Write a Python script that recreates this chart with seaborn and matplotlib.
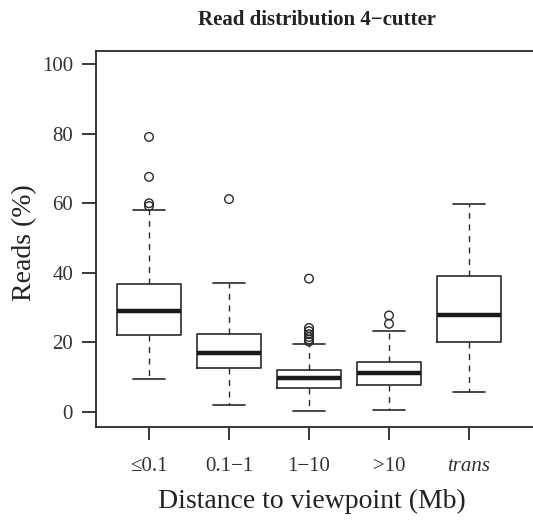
import numpy as np
import pandas as pd
import matplotlib
matplotlib.use("Agg")
import matplotlib.pyplot as plt
import seaborn as sns

# Distance classes from the viewpoint
categories = ["≤0.1", "0.1−1", "1−10", ">10", "trans"]

# Five-number summaries (% of reads) per distance class
whisker_low = [9.5, 2.0, 0.1, 0.4, 5.8]
quartile_1 = [22.0, 12.5, 6.8, 7.8, 20.2]
medians = [29.1, 16.9, 9.7, 11.0, 27.7]
quartile_3 = [36.8, 22.4, 12.1, 14.3, 39.1]
whisker_high = [58.0, 37.1, 19.5, 23.1, 59.7]

# Outlying viewpoints per distance class
outliers_le01 = [59.2, 60.0, 67.6, 79.1]
outliers_01_1 = [61.2]
outliers_1_10 = [20.2, 20.8, 21.5, 22.3, 23.2, 24.1, 38.3]
outliers_gt10 = [25.3, 27.7]
outliers_trans = []

y_ticks = [0, 20, 40, 60, 80, 100]

INK = "#2a2a2a"

sns.set_style("ticks")
plt.rcParams["font.family"] = ["Liberation Serif", "DejaVu Serif"]
plt.rcParams["axes.edgecolor"] = INK
plt.rcParams["axes.linewidth"] = 1.3
plt.rcParams["xtick.color"] = INK
plt.rcParams["ytick.color"] = INK
plt.rcParams["xtick.labelcolor"] = "#333333"
plt.rcParams["ytick.labelcolor"] = "#333333"

summary = pd.DataFrame({
    "group": np.repeat(categories, 5),
    "reads": np.column_stack([whisker_low, quartile_1, medians,
                              quartile_3, whisker_high]).ravel(),
})

outlier_lists = [outliers_le01, outliers_01_1, outliers_1_10,
                 outliers_gt10, outliers_trans]
outliers = pd.DataFrame({
    "group": np.concatenate([[c] * len(v) for c, v in zip(categories, outlier_lists)]),
    "reads": np.concatenate([np.asarray(v, dtype=float) for v in outlier_lists]),
})

# Plot frame runs past the right edge of the canvas
AX_LEFT, AX_RIGHT, AX_TOP, AX_BOTTOM = 96, 600, 51, 426.7
AX_W = AX_RIGHT - AX_LEFT

fig = plt.figure(figsize=(5.33, 5.21), dpi=100)
ax = fig.add_axes([AX_LEFT / 533, (521 - AX_BOTTOM) / 521,
                   AX_W / 533, (AX_BOTTOM - AX_TOP) / 521])

# Whiskers span min..max of each summary, so they land on the recorded ends
sns.boxplot(
    data=summary, x="group", y="reads", order=categories, ax=ax,
    whis=(0, 100), width=0.8, fill=False, color=INK, linewidth=1.2,
    showfliers=False,
    medianprops=dict(color="#1a1a1a", linewidth=3.2),
    whiskerprops=dict(color=INK, linewidth=1.0, linestyle=(0, (4.3, 4))),
    capprops=dict(color=INK, linewidth=1.2),
    boxprops=dict(color=INK, linewidth=1.2),
)

sns.stripplot(
    data=outliers, x="group", y="reads", order=categories, ax=ax,
    jitter=False, size=6.2, color=INK, facecolor="none",
    edgecolor=INK, linewidth=1.0,
)

ax.set_xlim(-(149 - AX_LEFT) / 80, (AX_RIGHT - 149) / 80)
ax.set_ylim(-4.32, 103.83)
ax.set_yticks(y_ticks)
ax.set_yticklabels([str(t) for t in y_ticks])
ax.tick_params(axis="y", length=10, width=1.3, pad=6.5, labelsize=15)
ax.tick_params(axis="x", length=9, width=1.3, pad=12.5, labelsize=15)
ax.get_xticklabels()[4].set_style("italic")

for side in ("top", "left", "bottom"):
    ax.spines[side].set_visible(True)
ax.spines["right"].set_visible(False)

ax.set_xlabel("Distance to viewpoint (Mb)", fontsize=20, color="#222222")
ax.xaxis.set_label_coords((312 - AX_LEFT) / AX_W, -0.2164)
ax.xaxis.label.set_va("baseline")
ax.set_ylabel("Reads (%)", fontsize=20, color="#222222")
ax.yaxis.set_label_coords((37 - AX_LEFT) / AX_W, 0.49)

ax.set_title("Read distribution 4−cutter", fontsize=15, fontweight="bold",
             color="#222222", x=(316.7 - AX_LEFT) / AX_W, y=1.047, va="baseline")

fig.savefig("out.png", dpi=100)
